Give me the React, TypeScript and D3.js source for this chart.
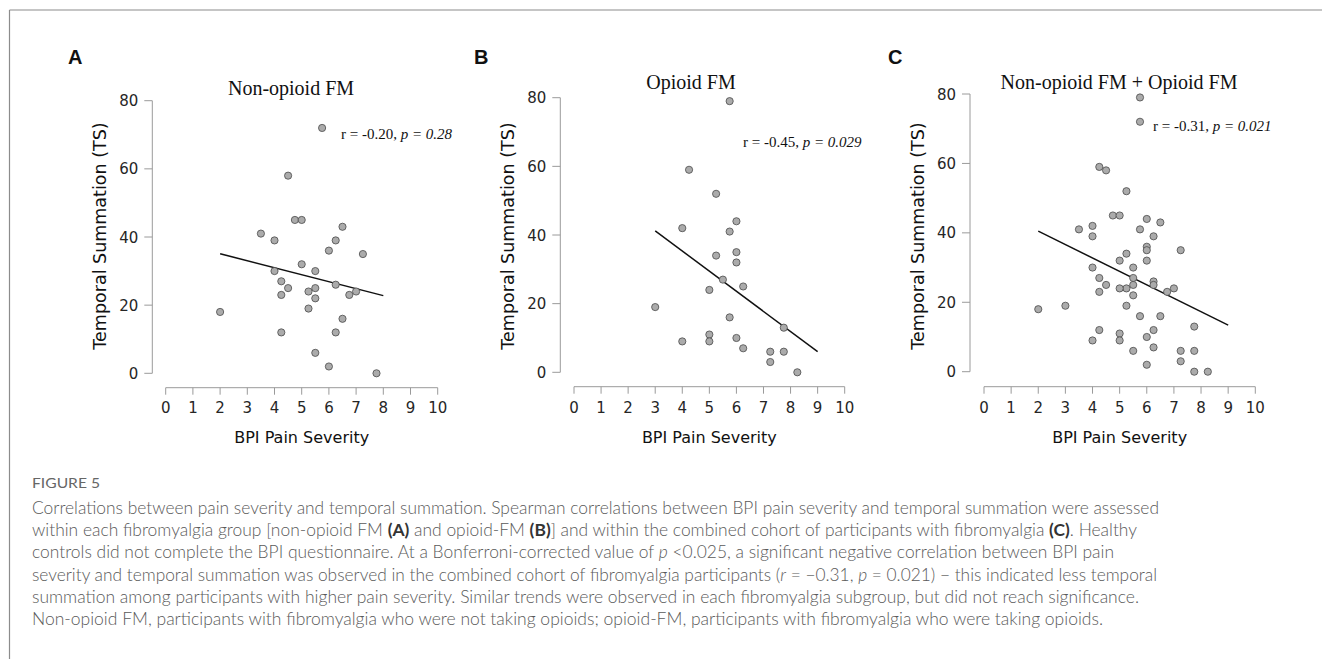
import React from "react";
import * as d3 from "d3";

// ---------- data ----------
const xTicks = [0, 1, 2, 3, 4, 5, 6, 7, 8, 9, 10];
const yTicks = [0, 20, 40, 60, 80];

const nonOpioidX = [2, 5.75, 4.5, 4.75, 5, 6.5, 3.5, 4, 6.25, 6, 7.25, 5, 4, 5.5, 4.25, 6.25, 4.5, 5.5, 5.25, 7, 4.25, 6.75, 5.5, 5.25, 6.5, 4.25, 6.25, 5.5, 6, 7.75];
const nonOpioidY = [18, 72, 58, 45, 45, 43, 41, 39, 39, 36, 35, 32, 30, 30, 27, 26, 25, 25, 24, 24, 23, 23, 22, 19, 16, 12, 12, 6, 2, 0];

const opioidX = [5.75, 4.25, 5.25, 6, 4, 5.75, 6, 5.25, 6, 5.5, 6.25, 5, 3, 5.75, 7.75, 5, 4, 5, 6, 6.25, 7.25, 7.75, 7.25, 8.25];
const opioidY = [79, 59, 52, 44, 42, 41, 35, 34, 32, 27, 25, 24, 19, 16, 13, 11, 9, 9, 10, 7, 6, 6, 3, 0];

const fitAX = [2, 8];
const fitAY = [35.1, 22.8];
const fitBX = [3, 9];
const fitBY = [41.2, 6.0];
const fitCX = [2, 9];
const fitCY = [40.5, 13.4];

const panelLetters = ["A", "B", "C"];
const panelTitles = ["Non-opioid FM", "Opioid FM", "Non-opioid FM + Opioid FM"];
const panelR = ["-0.20", "-0.45", "-0.31"];
const panelP = ["0.28", "0.029", "0.021"];

// ---------- layout ----------
const layouts = [
  { ax: 152.3, y0: 373.3, y80: 100.7, xAxisY: 387.7, x0: 165.7, x10: 437.7, yLabX: 100, letterX: 68, titleX: 291, titleY: 95, annX: 341, annY: 139 },
  { ax: 560.3, y0: 372.3, y80: 97.7, xAxisY: 386.7, x0: 574, x10: 844.7, yLabX: 508, letterX: 474, titleX: 691, titleY: 88.5, annX: 743, annY: 147 },
  { ax: 970, y0: 371.7, y80: 94, xAxisY: 386.7, x0: 984, x10: 1255.3, yLabX: 918, letterX: 888, titleX: 1119, titleY: 88.5, annX: 1153, annY: 131 },
];

const AXIS = "#9a9a9a";
const TICKTXT = "#262626";
const SANS = "'DejaVu Sans', sans-serif";
const SERIF = "'Liberation Serif', 'Times New Roman', serif";

function Panel({ i, xs, ys, fx, fy }: { i: number; xs: number[]; ys: number[]; fx: number[]; fy: number[] }) {
  const L = layouts[i];
  const x = d3.scaleLinear().domain([0, 10]).range([L.x0, L.x10]);
  const y = d3.scaleLinear().domain([0, 80]).range([L.y0, L.y80]);
  const line = d3.line<[number, number]>().x((d) => x(d[0])).y((d) => y(d[1]));
  const fitPts: [number, number][] = fx.map((v, k) => [v, fy[k]]);
  return (
    <g>
      <text x={L.letterX} y={64} fontFamily="'Liberation Sans', Arial, sans-serif" fontWeight="bold" fontSize={20} fill="#111">
        {panelLetters[i]}
      </text>
      <text x={L.titleX} y={L.titleY} textAnchor="middle" fontFamily={SERIF} fontSize={20} fill="#111">
        {panelTitles[i]}
      </text>
      {/* y axis */}
      <line x1={L.ax} x2={L.ax} y1={y(80)} y2={y(0)} stroke={AXIS} strokeWidth={1} />
      {yTicks.map((t) => (
        <g key={"y" + t}>
          <line x1={L.ax - 8} x2={L.ax} y1={y(t)} y2={y(t)} stroke={AXIS} strokeWidth={1} />
          <text x={L.ax - 14} y={y(t) + 5.5} textAnchor="end" fontFamily={SANS} fontSize={15} fill={TICKTXT}>
            {t}
          </text>
        </g>
      ))}
      {/* x axis */}
      <line x1={x(0)} x2={x(10)} y1={L.xAxisY} y2={L.xAxisY} stroke={AXIS} strokeWidth={1} />
      {xTicks.map((t) => (
        <g key={"x" + t}>
          <line x1={x(t)} x2={x(t)} y1={L.xAxisY} y2={L.xAxisY + 7} stroke={AXIS} strokeWidth={1} />
          <text x={x(t)} y={412.5} textAnchor="middle" fontFamily={SANS} fontSize={15} fill={TICKTXT}>
            {t}
          </text>
        </g>
      ))}
      <text x={(L.x0 + L.x10) / 2} y={443} textAnchor="middle" fontFamily={SANS} fontSize={16} fill="#111">
        BPI Pain Severity
      </text>
      <text
        transform={`translate(${L.yLabX + 6},236) rotate(-90)`}
        textAnchor="middle"
        fontFamily={SANS}
        fontSize={17.5}
        fill="#111"
      >
        Temporal Summation (TS)
      </text>
      {/* fit line */}
      <path d={line(fitPts) || ""} fill="none" stroke="#111" strokeWidth={1.5} />
      {/* points */}
      {xs.map((v, k) => (
        <circle key={k} cx={x(v)} cy={y(ys[k])} r={3.6} fill="#ababab" stroke="#4a4a4a" strokeWidth={0.8} />
      ))}
      <text x={L.annX} y={L.annY} fontFamily={SERIF} fontSize={15} fill="#111">
        {"r = " + panelR[i] + ", "}
        <tspan fontStyle="italic">{"p = " + panelP[i]}</tspan>
      </text>
    </g>
  );
}

const CAP_FONT = "Lato, 'Open Sans', sans-serif";
const CAP_COLOR = "#5a5a5a";
const capEnds = [1159, 1137, 1114, 1157, 1139, 1103];

export default function App() {
  const combinedX = nonOpioidX.concat(opioidX);
  const combinedY = nonOpioidY.concat(opioidY);
  const B = (s: string) => <tspan fontWeight="bold" fill="#333">{s}</tspan>;
  const I = (s: string) => <tspan fontStyle="italic">{s}</tspan>;
  const lines: React.ReactNode[] = [
    <>Correlations between pain severity and temporal summation. Spearman correlations between BPI pain severity and temporal summation were assessed</>,
    <>within each fibromyalgia group [non-opioid FM {B("(A)")} and opioid-FM {B("(B)")}] and within the combined cohort of participants with fibromyalgia {B("(C)")}. Healthy</>,
    <>controls did not complete the BPI questionnaire. At a Bonferroni-corrected value of {I("p")} &lt;0.025, a significant negative correlation between BPI pain</>,
    <>severity and temporal summation was observed in the combined cohort of fibromyalgia participants ({I("r")} = −0.31, {I("p")} = 0.021) − this indicated less temporal</>,
    <>summation among participants with higher pain severity. Similar trends were observed in each fibromyalgia subgroup, but did not reach significance.</>,
    <>Non-opioid FM, participants with fibromyalgia who were not taking opioids; opioid-FM, participants with fibromyalgia who were taking opioids.</>,
  ];
  return (
    <svg
      width={1322}
      height={659}
      style={{ position: "absolute", left: 0, top: 0, background: "#fff" }}
      xmlns="http://www.w3.org/2000/svg"
    >
      <rect x={0} y={0} width={1322} height={659} fill="#fff" />
      <line x1={9.5} x2={1322} y1={10} y2={10} stroke="#8c8c8c" strokeWidth={1.2} />
      <line x1={9.5} x2={9.5} y1={10} y2={659} stroke="#8c8c8c" strokeWidth={1.2} />
      <Panel i={0} xs={nonOpioidX} ys={nonOpioidY} fx={fitAX} fy={fitAY} />
      <Panel i={1} xs={opioidX} ys={opioidY} fx={fitBX} fy={fitBY} />
      <Panel i={2} xs={combinedX} ys={combinedY} fx={fitCX} fy={fitCY} />
      <text x={32} y={488} fontFamily={CAP_FONT} fontSize={14} fill="#666" textLength={68} lengthAdjust="spacingAndGlyphs">
        FIGURE 5
      </text>
      {lines.map((ln, k) => (
        <text
          key={k}
          x={32}
          y={514 + 22.2 * k}
          fontFamily={CAP_FONT}
          fontSize={17}
          fontWeight={300}
          fill={CAP_COLOR}
          textLength={capEnds[k] - 32}
          lengthAdjust="spacingAndGlyphs"
        >
          {ln}
        </text>
      ))}
    </svg>
  );
}
